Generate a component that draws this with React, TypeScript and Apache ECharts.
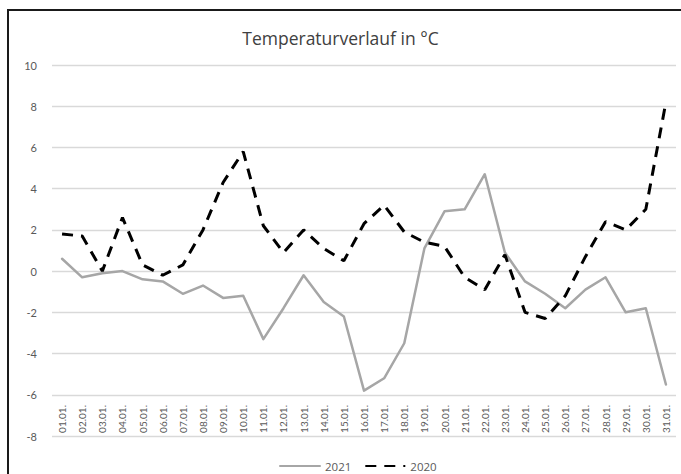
import React, { useEffect, useRef } from "react";
import * as echarts from "echarts";

const days = [
  "01.01.", "02.01.", "03.01.", "04.01.", "05.01.", "06.01.", "07.01.", "08.01.",
  "09.01.", "10.01.", "11.01.", "12.01.", "13.01.", "14.01.", "15.01.", "16.01.",
  "17.01.", "18.01.", "19.01.", "20.01.", "21.01.", "22.01.", "23.01.", "24.01.",
  "25.01.", "26.01.", "27.01.", "28.01.", "29.01.", "30.01.", "31.01.",
];

const temps2021 = [
  0.6, -0.3, -0.1, 0.0, -0.4, -0.5, -1.1, -0.7, -1.3, -1.2, -3.3, -1.8, -0.2, -1.5, -2.2, -5.8,
  -5.2, -3.5, 1.1, 2.9, 3.0, 4.7, 0.9, -0.5, -1.1, -1.8, -0.9, -0.3, -2.0, -1.8, -5.5,
];

const temps2020 = [
  1.8, 1.7, 0.0, 2.6, 0.3, -0.2, 0.3, 2.0, 4.3, 5.8, 2.2, 0.9, 2.0, 1.1, 0.5, 2.3,
  3.2, 1.9, 1.4, 1.2, -0.3, -0.9, 0.8, -2.0, -2.3, -1.2, 0.7, 2.4, 2.0, 3.0, 8.2,
];

const yTicks = [-8, -6, -4, -2, 0, 2, 4, 6, 8, 10];

export default function App() {
  const ref = useRef<HTMLDivElement>(null);

  useEffect(() => {
    if (!ref.current) return;
    const chart = echarts.init(ref.current, null, { renderer: "svg" });
    chart.setOption({
      animation: false,
      title: {
        text: "Temperaturverlauf in °C",
        left: "center",
        top: 24,
        textStyle: {
          fontFamily: "'Open Sans', Lato, sans-serif",
          fontSize: 17.5,
          fontWeight: "normal",
          color: "#404040",
        },
      },
      legend: {
        top: 455,
        left: 274,
        itemWidth: 40,
        itemHeight: 12,
        itemGap: 13,
        itemStyle: { opacity: 0 },
        textStyle: {
          fontFamily: "'Open Sans', Lato, sans-serif",
          fontSize: 11.5,
          color: "#595959",
        },
        data: ["2021", "2020"],
      },
      grid: {
        left: 52,
        right: 5,
        top: 65,
        bottom: 38,
        containLabel: false,
      },
      xAxis: {
        type: "category",
        data: days,
        boundaryGap: true,
        axisLine: { show: false },
        axisTick: { show: false },
        splitLine: { show: false },
        axisLabel: {
          rotate: 90,
          margin: -31,
          interval: 0,
          fontFamily: "Lato, 'Open Sans', sans-serif",
          fontSize: 10,
          color: "#595959",
        },
      },
      yAxis: {
        type: "value",
        min: yTicks[0],
        max: yTicks[yTicks.length - 1],
        interval: 2,
        axisLine: { show: false },
        axisTick: { show: false },
        axisLabel: {
          margin: 15,
          fontFamily: "Lato, 'Open Sans', sans-serif",
          fontSize: 11,
          color: "#595959",
        },
        splitLine: { lineStyle: { color: "#d9d9d9", width: 1.3 } },
      },
      series: [
        {
          name: "2021",
          type: "line",
          data: temps2021,
          symbol: "none",
          lineStyle: { color: "#a6a6a6", width: 2.5, cap: "round", join: "round" },
          itemStyle: { color: "#a6a6a6" },
          z: 2,
        },
        {
          name: "2020",
          type: "line",
          data: temps2020,
          symbol: "none",
          lineStyle: { color: "#000000", width: 3, type: [11, 8], cap: "butt" },
          itemStyle: { color: "#000000" },
          z: 3,
        },
      ],
    });
    return () => chart.dispose();
  }, []);

  return (
    <div style={{ position: "fixed", left: 0, top: 0, width: 681, height: 474, background: "#fff", overflow: "hidden" }}>
      <div ref={ref} style={{ position: "absolute", left: 0, top: 0, width: 681, height: 474 }} />
      <div style={{ position: "absolute", left: 676, top: 12, width: 5, height: 462, background: "#fff", zIndex: 5 }} />
      <div style={{ position: "absolute", left: 8, top: 9, width: 673, height: 2, background: "#1a1a1a", zIndex: 6 }} />
      <div style={{ position: "absolute", left: 7, top: 9, width: 2, height: 465, background: "#1a1a1a", zIndex: 6 }} />
    </div>
  );
}
